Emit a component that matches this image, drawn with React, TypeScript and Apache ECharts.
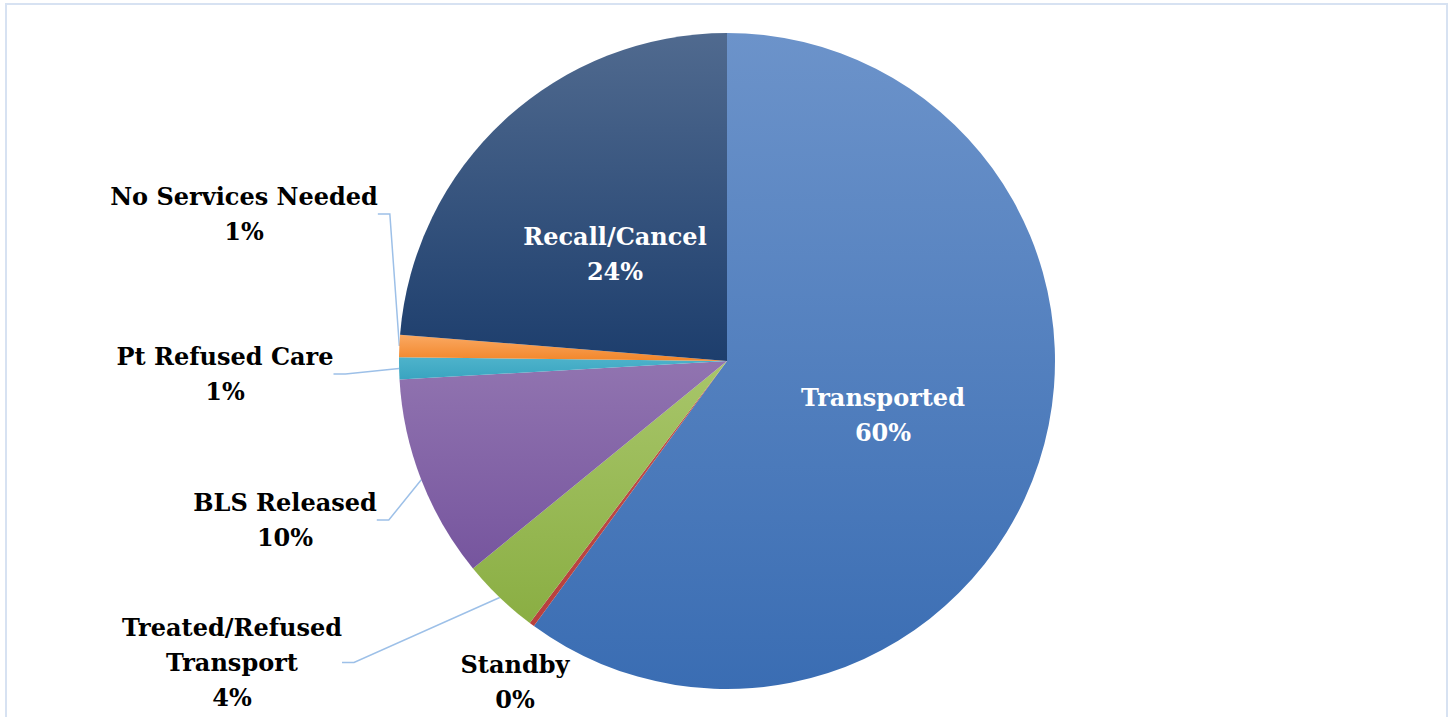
import React, { useEffect, useRef } from "react";
import * as echarts from "echarts";

const categories = [
  "Transported",
  "Standby",
  "Treated/Refused Transport",
  "BLS Released",
  "Pt Refused Care",
  "No Services Needed",
  "Recall/Cancel",
];
const values = [60.02, 0.25, 3.83, 10.0, 1.08, 1.1, 23.72];

const gradientTop = ["#6C93CA", "#C0504D", "#A8C66A", "#9174B0", "#4EB3CB", "#FAA963", "#506A8F"];
const gradientBottom = ["#3A6DB3", "#B8403D", "#8AAE43", "#76559E", "#39A4C0", "#F2862A", "#1D3E6D"];

// label block anchors: [centre x, top y]
const labelPos: [number, number][] = [
  [883, 380],
  [515, 647],
  [232, 610],
  [285, 485],
  [225, 339],
  [244, 179],
  [615, 219],
];
const insideLabel = [true, false, false, false, false, false, true];
const showLine = [false, false, true, true, true, true, false];

export default function App() {
  const ref = useRef<HTMLDivElement>(null);
  useEffect(() => {
    document.body.style.margin = "0";
    const chart = echarts.init(ref.current!, undefined, { renderer: "svg" });
    const font = "'DejaVu Serif', 'Liberation Serif', serif";
    const data = categories.map((name, i) => ({
      name,
      value: values[i],
      itemStyle: {
        color: {
          type: "linear",
          x: 0,
          y: 0,
          x2: 0,
          y2: 1,
          colorStops: [
            { offset: 0, color: gradientTop[i] },
            { offset: 1, color: gradientBottom[i] },
          ],
        },
      },
      label: {
        color: insideLabel[i] ? "#FFFFFF" : "#000000",
      },
      labelLine: { show: showLine[i] },
    }));
    chart.setOption({
      animation: false,
      backgroundColor: "#FFFFFF",
      graphic: [
        {
          type: "rect",
          shape: { x: 6, y: 4, width: 1441, height: 740 },
          style: { fill: "none", stroke: "#D7E2F2", lineWidth: 2 },
          silent: true,
        },
      ],
      series: [
        {
          type: "pie",
          center: [727, 361],
          radius: [0, 328],
          startAngle: 90,
          clockwise: true,
          avoidLabelOverlap: false,
          data,
          itemStyle: { borderWidth: 0 },
          label: {
            show: true,
            position: "outside",
            fontFamily: font,
            fontWeight: "bold",
            fontSize: 24,
            lineHeight: 35,
            formatter: (p: any) =>
              p.name.replace("Refused Transport", "Refused\nTransport") +
              "\n" +
              Math.round(p.percent) +
              "%",
          },
          labelLine: {
            show: true,
            length: 10,
            length2: 12,
            lineStyle: { color: "#9DC0E8", width: 1.5 },
          },
          labelLayout: (params: any) => {
            const pos = labelPos[params.dataIndex];
            return {
              x: pos[0],
              y: pos[1],
              align: "center",
              verticalAlign: "top",
            };
          },
        },
      ],
    });
    return () => chart.dispose();
  }, []);
  return <div ref={ref} style={{ width: 1453, height: 717 }} />;
}
